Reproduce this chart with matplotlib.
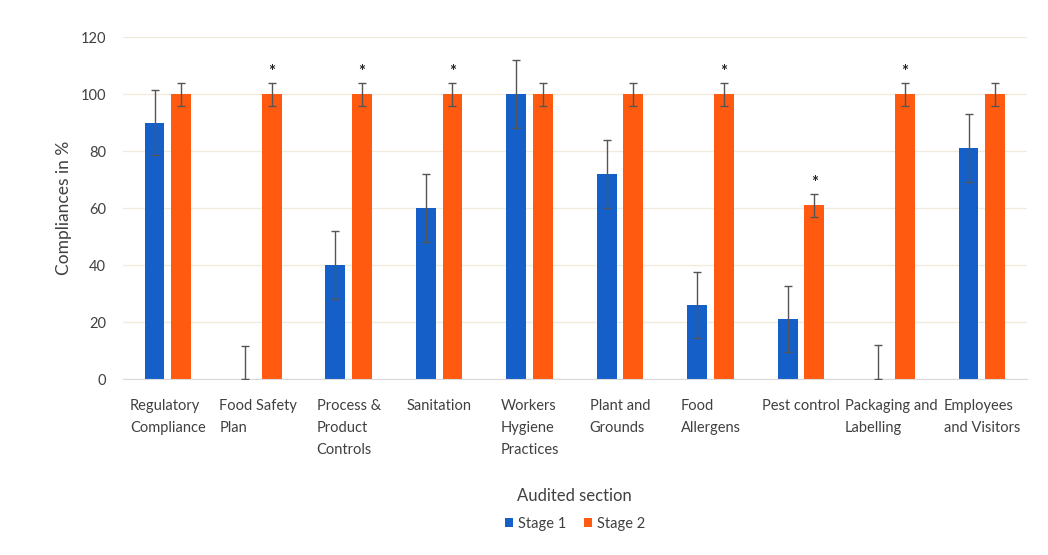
import matplotlib.pyplot as plt
import numpy as np

plt.rcParams["font.family"] = ["Lato", "DejaVu Sans"]

categories = ["Regulatory\nCompliance", "Food Safety\nPlan", "Process &\nProduct\nControls",
              "Sanitation", "Workers\nHygiene\nPractices", "Plant and\nGrounds",
              "Food\nAllergens", "Pest control", "Packaging and\nLabelling",
              "Employees\nand Visitors"]
stage1 = [90, 0, 40, 60, 100, 72, 26, 21, 0, 81]
stage1_err = [11.5, 11.5, 12, 12, 12, 12, 11.5, 11.5, 12, 12]
stage2 = [100, 100, 100, 100, 100, 100, 100, 61, 100, 100]
stage2_err = [4, 4, 4, 4, 4, 4, 4, 4, 4, 4]
significant = [False, True, True, True, False, False, True, True, True, False]

blue = "#1560c8"
orange = "#ff5a10"

fig = plt.figure(figsize=(10.48, 5.55), dpi=100)
ax = fig.add_axes([0.117, 0.317, 0.863, 0.616])

x = np.arange(len(categories))
w = 0.22
off = 0.147

lo1 = [min(e, v) for e, v in zip(stage1_err, stage1)]
ax.bar(x - off, stage1, w, color=blue, label="Stage 1", zorder=2)
ax.bar(x + off, stage2, w, color=orange, label="Stage 2", zorder=2)
ax.errorbar(x - off, stage1, yerr=[lo1, stage1_err], fmt="none", ecolor="#555555",
            elinewidth=1, capsize=3, capthick=1, zorder=3)
ax.errorbar(x + off, stage2, yerr=stage2_err, fmt="none", ecolor="#555555",
            elinewidth=1, capsize=3, capthick=1, zorder=3)

for xi, v, e, s in zip(x, stage2, stage2_err, significant):
    if s:
        ax.text(xi + off, v + e + 1, "*", ha="center", va="bottom", fontsize=12,
                fontweight="bold", color="#222222")

ax.set_xlim(-0.5, len(categories) - 0.5)
ax.set_ylim(0, 120)
ax.set_yticks(range(0, 121, 20))
ax.yaxis.grid(True, color="#f0ebdc", linewidth=1, zorder=0)
ax.set_axisbelow(True)
for sp in ["top", "right", "left"]:
    ax.spines[sp].set_visible(False)
ax.spines["bottom"].set_color("#d9d9d9")
ax.tick_params(axis="both", length=0, colors="#404040", labelsize=10.5)
ax.tick_params(axis="y", pad=12)
ax.tick_params(axis="x", pad=14)
ax.set_xticks(x)
ax.set_xticklabels(categories, multialignment="left", va="top", linespacing=1.75)

ax.set_ylabel("Compliances in %", fontsize=12.5, color="#404040", labelpad=6)
ax.set_xlabel("Audited section", fontsize=12, color="#404040", labelpad=22)

ax.legend(loc="upper center", bbox_to_anchor=(0.5, -0.365), ncol=2, frameon=False,
          fontsize=10.5, handlelength=0.6, handleheight=0.6, handletextpad=0.3,
          columnspacing=1.2, labelcolor="#404040")

fig.savefig("out.png", dpi=100)
